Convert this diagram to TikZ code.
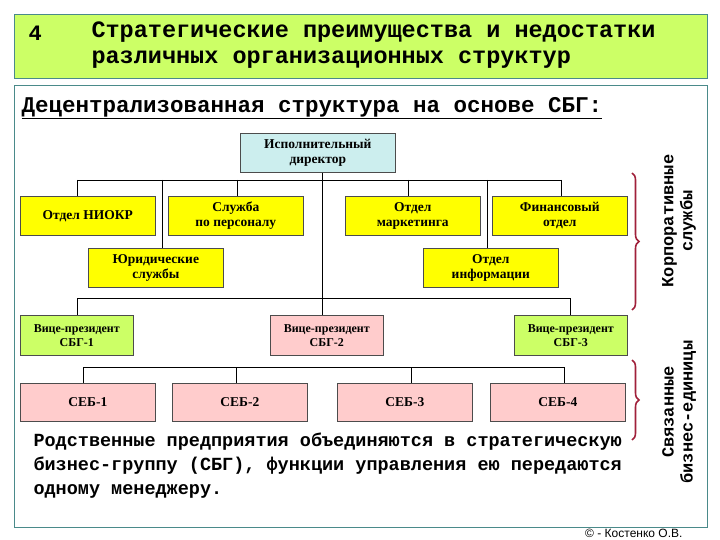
\documentclass[tikz,border=0pt]{standalone}
\usepackage{fontspec}
\setmainfont{Liberation Serif}
\newfontfamily\monob{Liberation Mono}[BoldFont={Liberation Mono Bold}]
\newfontfamily\sansf{Liberation Sans}
\usetikzlibrary{decorations.pathreplacing}
\definecolor{lime}{HTML}{CCFF66}
\definecolor{yel}{HTML}{FFFF00}
\definecolor{pinkb}{HTML}{FFCCCC}
\definecolor{blueb}{HTML}{CCEEEE}
\definecolor{frame}{HTML}{4A8A8A}
\definecolor{brace}{HTML}{A0203A}
\begin{document}
\begin{tikzpicture}[x=1pt,y=1pt,
  bx/.style={draw=black!70,line width=0.6pt,inner sep=0pt,align=center,font=\fontsize{13.5}{15}\selectfont\bfseries},
  vpt/.style={bx,draw=none,font=\fontsize{12}{14}\selectfont\bfseries},
  conn/.style={draw=black,line width=0.6pt},
  brc/.style={draw=brace,line width=1.6pt,decorate,decoration={brace,amplitude=7pt}}]
\useasboundingbox (0,0) rectangle (720,-540);
\fill[white] (0,0) rectangle (720,-540);
\draw[frame,line width=0.8pt] (14,-85) rectangle (707,-527);
\node[fill=lime,draw=frame,line width=0.6pt,minimum width=693pt,minimum height=64pt,anchor=north west] (hdr) at (14,-14) {};
\node[anchor=west,font=\monob\fontsize{22}{24}\selectfont\bfseries] (num) at (25,-33) {4};
\node[anchor=north west,align=left,font=\monob\fontsize{23.5}{26}\selectfont\bfseries] (ttl) at (88,-18) {Стратегические преимущества и недостатки\\различных организационных структур};
\node[anchor=west,font=\monob\fontsize{22.5}{24}\selectfont\bfseries] (sub) at (18,-108) {\underline{Децентрализованная структура на основе СБГ:}};

\newcommand\bxat[6]{\node[bx,fill=#5,minimum width=#3-#1,minimum height=#4-#2,anchor=north west] (#6) at (#1,-#2) {};}
\bxat{240}{133}{395}{172}{blueb}{dir}
\node[bx,draw=none] at (dir.center) {Исполнительный\\директор};
\bxat{20}{196}{155}{235}{yel}{niokr}
\node[bx,draw=none] at (niokr.center) {Отдел НИОКР};
\bxat{168}{196}{303}{235}{yel}{pers}
\node[bx,draw=none] at (pers.center) {Служба\\по персоналу};
\bxat{345}{196}{480}{235}{yel}{mark}
\node[bx,draw=none] at (mark.center) {Отдел\\маркетинга};
\bxat{492}{196}{627}{235}{yel}{fin}
\node[bx,draw=none] at (fin.center) {Финансовый\\отдел};
\bxat{88}{248}{223}{287}{yel}{jur}
\node[bx,draw=none] at (jur.center) {Юридические\\службы};
\bxat{423}{248}{558}{287}{yel}{inf}
\node[bx,draw=none] at (inf.center) {Отдел\\информации};
\bxat{20}{315}{133}{355}{lime}{vp1}
\node[vpt] at (vp1.center) {Вице-президент\\СБГ-1};
\bxat{270}{315}{383}{355}{pinkb}{vp2}
\node[vpt] at (vp2.center) {Вице-президент\\СБГ-2};
\bxat{514}{315}{627}{355}{lime}{vp3}
\node[vpt] at (vp3.center) {Вице-президент\\СБГ-3};
\bxat{20}{383}{155}{421}{pinkb}{s1}
\node[bx,draw=none] at (s1.center) {СЕБ-1};
\bxat{172}{383}{307}{421}{pinkb}{s2}
\node[bx,draw=none] at (s2.center) {СЕБ-2};
\bxat{337}{383}{472}{421}{pinkb}{s3}
\node[bx,draw=none] at (s3.center) {СЕБ-3};
\bxat{490}{383}{625}{421}{pinkb}{s4}
\node[bx,draw=none] at (s4.center) {СЕБ-4};

% connectors
\coordinate (b1l) at (77,-180);
\coordinate (b1r) at (561,-180);
\draw[conn] (b1l) -- (b1r);
\draw[conn] (dir.south -| 322,0) -- (vp2.north -| 322,0);
\draw[conn] (b1l) -- (niokr.north -| b1l);
\draw[conn] (237,-180) -- (pers.north -| 237,0);
\draw[conn] (162,-180) -- (jur.north -| 162,0);
\draw[conn] (408,-180) -- (mark.north -| 408,0);
\draw[conn] (b1r) -- (fin.north -| b1r);
\draw[conn] (487,-180) -- (inf.north -| 487,0);
\coordinate (b2l) at (77,-298);
\coordinate (b2r) at (570,-298);
\draw[conn] (b2l) -- (b2r);
\draw[conn] (b2l) -- (vp1.north -| b2l);
\draw[conn] (b2r) -- (vp3.north -| b2r);
\coordinate (b3l) at (83,-367);
\coordinate (b3r) at (564,-367);
\draw[conn] (b3l) -- (b3r);
\draw[conn] (b3l) -- (s1.north -| b3l);
\draw[conn] (236,-367) -- (s2.north -| 236,0);
\draw[conn] (411,-367) -- (s3.north -| 411,0);
\draw[conn] (b3r) -- (s4.north -| b3r);

% braces
\coordinate (br1t) at (632,-173);
\coordinate (br1b) at (632,-310);
\draw[brc] (br1t) -- (br1b);
\coordinate (br2t) at (632,-360);
\coordinate (br2b) at (632,-440);
\draw[brc] (br2t) -- (br2b);
\node[rotate=90,align=center,font=\monob\fontsize{17}{19}\selectfont\bfseries] (corp) at (679,-221) {Корпоративные\\службы};
\node[rotate=90,align=center,font=\monob\fontsize{17}{19}\selectfont\bfseries] (svy) at (679,-412) {Связанные\\бизнес-единицы};

\node[anchor=north west,align=left,font=\monob\fontsize{18.5}{24}\selectfont\bfseries] (txt) at (30,-429) {Родственные предприятия объединяются в стратегическую\\бизнес-группу (СБГ), функции управления ею передаются\\одному менеджеру.};
\node[anchor=east,font=\sansf\fontsize{12}{13}\selectfont] (cp) at (686,-533) {© - Костенко О.В.};
\end{tikzpicture}
\end{document}
